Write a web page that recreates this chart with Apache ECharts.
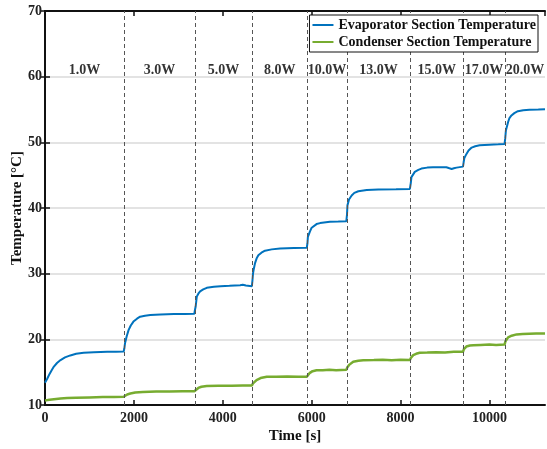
<!DOCTYPE html>
<html lang="en">
<head>
    <meta charset="UTF-8">
    <title>Section Temperature</title>
    <script src="https://cdn.jsdelivr.net/npm/echarts@6/dist/echarts.min.js"></script>
</head>

<style>
    html, body {
        margin: 0;
        padding: 0;
        background: #fff;
    }
    .chart {
        width: 547px;
        height: 449px;
    }
</style>

<body>
<div id="chart" class="chart"></div>

<script>
    // heater power steps, switch times [s]
    const powers = ['1.0W', '3.0W', '5.0W', '8.0W', '10.0W', '13.0W', '15.0W', '17.0W', '20.0W']
    const switchTimes = [1780, 3370, 4665, 5900, 6790, 8220, 9410, 10345]
    const endTime = 11250

    // [time s, temperature C]
    const evaporator = [
        [0, 13.4], [50, 14.0], [100, 14.7], [150, 15.3], [200, 15.85], [270, 16.4], [350, 16.85], [450, 17.25],
        [570, 17.55], [700, 17.8], [870, 17.95], [1100, 18.05], [1400, 18.1], [1600, 18.1], [1770, 18.15],
        [1785, 18.6], [1800, 19.4], [1840, 20.5], [1880, 21.4], [1930, 22.1], [1990, 22.7], [2070, 23.15],
        [2140, 23.45], [2250, 23.6], [2370, 23.7], [2600, 23.8], [2900, 23.85], [3150, 23.85], [3360, 23.9],
        [3375, 24.5], [3390, 25.0], [3415, 26.5], [3450, 26.95], [3490, 27.3], [3560, 27.6], [3640, 27.85],
        [3800, 28.0], [3950, 28.1], [4150, 28.15], [4390, 28.25], [4450, 28.3], [4520, 28.2], [4655, 28.1],
        [4668, 29.0], [4680, 30.0], [4700, 30.8], [4726, 31.6], [4760, 32.3], [4800, 32.8], [4870, 33.2],
        [4950, 33.5], [5100, 33.7], [5290, 33.85], [5600, 33.9], [5890, 33.95],
        [5905, 34.6], [5915, 35.6], [5960, 36.4], [6000, 37.0], [6040, 37.3], [6110, 37.55], [6190, 37.7],
        [6410, 37.9], [6600, 37.95], [6780, 38.0],
        [6795, 39.0], [6805, 40.4], [6840, 41.3], [6900, 41.9], [6960, 42.3], [7050, 42.55], [7240, 42.75],
        [7500, 42.8], [7900, 42.85], [8210, 42.9],
        [8230, 43.8], [8245, 44.7], [8320, 45.5], [8400, 45.8], [8470, 46.0], [8600, 46.15], [8730, 46.2],
        [9030, 46.2], [9100, 46.05], [9150, 45.95], [9200, 46.05], [9260, 46.15], [9405, 46.3],
        [9420, 47.0], [9435, 47.6], [9480, 48.2], [9530, 48.75], [9600, 49.2], [9680, 49.4], [9780, 49.55],
        [10000, 49.65], [10200, 49.7], [10340, 49.75],
        [10355, 50.6], [10370, 51.8], [10420, 53.1], [10450, 53.7], [10495, 54.1], [10560, 54.45], [10640, 54.75],
        [10760, 54.9], [10900, 54.95], [11100, 55.0], [11250, 55.05]
    ]

    const condenser = [
        [0, 10.7], [60, 10.75], [150, 10.85], [250, 10.93], [350, 11.0], [500, 11.05], [700, 11.1], [1000, 11.15],
        [1300, 11.2], [1550, 11.22], [1770, 11.25],
        [1800, 11.35], [1850, 11.6], [1920, 11.75], [2030, 11.9], [2200, 11.98], [2500, 12.05], [2800, 12.07],
        [3100, 12.1], [3360, 12.1],
        [3390, 12.3], [3450, 12.6], [3520, 12.78], [3640, 12.9], [3900, 12.93], [4200, 12.95], [4450, 12.97], [4655, 12.97],
        [4680, 13.3], [4760, 13.8], [4850, 14.1], [4990, 14.3], [5200, 14.32], [5450, 14.35], [5700, 14.3], [5890, 14.3],
        [5920, 14.55], [5960, 14.9], [6020, 15.15], [6110, 15.3], [6250, 15.28], [6400, 15.35], [6550, 15.3], [6780, 15.35],
        [6800, 15.7], [6850, 16.15], [6935, 16.6], [7050, 16.75], [7160, 16.8], [7400, 16.85], [7600, 16.9],
        [7800, 16.82], [8000, 16.88], [8210, 16.85],
        [8235, 17.2], [8285, 17.6], [8350, 17.8], [8430, 17.95], [8600, 17.98], [8800, 18.05], [9000, 18.0],
        [9200, 18.1], [9405, 18.1],
        [9425, 18.5], [9480, 18.9], [9560, 19.05], [9640, 19.1], [9800, 19.15], [10000, 19.2], [10150, 19.15], [10340, 19.2],
        [10360, 19.7], [10420, 20.3], [10500, 20.55], [10610, 20.75], [10750, 20.8], [10900, 20.85], [11050, 20.9], [11250, 20.9]
    ]

    const font = "'Liberation Serif', 'Times New Roman', serif"
    const labelY = 61

    // power label sits in the middle of its step
    let bounds = [0].concat(switchTimes, [endTime])
    let powerLabels = powers.map(function (p, i) {
        return {value: [(bounds[i] + bounds[i + 1]) / 2, labelY], name: p}
    })

    let tickStyle = {show: true, inside: true, length: 5, lineStyle: {color: '#111', width: 1.5}}
    let lineAxis = {show: true, lineStyle: {color: '#111', width: 2}}

    let option = {
        animation: false,
        backgroundColor: '#fff',
        textStyle: {fontFamily: font},
        grid: {left: 45, right: 2, top: 11, bottom: 44, containLabel: false, outerBoundsMode: 'none'},
        legend: {
            right: 9,
            top: 15,
            orient: 'vertical',
            z: 20,
            itemGap: 3,
            itemWidth: 21,
            itemHeight: 2,
            icon: 'rect',
            padding: [3, 2, 3, 3],
            backgroundColor: '#fff',
            borderColor: '#111',
            borderWidth: 1,
            textStyle: {fontFamily: font, fontSize: 14, fontWeight: 'bold', color: '#111'},
            data: ['Evaporator Section Temperature', 'Condenser Section Temperature']
        },
        xAxis: [{
            type: 'value',
            min: 0,
            max: endTime,
            interval: 2000,
            name: 'Time [s]',
            nameLocation: 'middle',
            nameGap: 24,
            nameMoveOverlap: false,
            nameTextStyle: {fontFamily: font, fontSize: 15, fontWeight: 'bold', color: '#111'},
            axisLine: lineAxis,
            axisTick: tickStyle,
            axisLabel: {
                margin: 6, fontFamily: font, fontSize: 14, fontWeight: 'bold', color: '#222',
                showMaxLabel: false,
                formatter: function (v) { return String(v) }
            },
            splitLine: {show: false}
        }, {
            type: 'value',
            position: 'top',
            min: 0,
            max: endTime,
            interval: 2000,
            axisLine: lineAxis,
            axisTick: tickStyle,
            axisLabel: {show: false},
            splitLine: {show: false}
        }],
        yAxis: [{
            type: 'value',
            min: 10,
            max: 70,
            interval: 10,
            name: 'Temperature [°C]',
            nameLocation: 'middle',
            nameGap: 20,
            nameMoveOverlap: false,
            nameTextStyle: {fontFamily: font, fontSize: 15, fontWeight: 'bold', color: '#111'},
            axisLine: lineAxis,
            axisTick: tickStyle,
            axisLabel: {margin: 3, fontFamily: font, fontSize: 14, fontWeight: 'bold', color: '#222'},
            splitLine: {show: true, lineStyle: {color: '#dadada', width: 1.5}}
        }, {
            type: 'value',
            position: 'right',
            min: 10,
            max: 70,
            interval: 10,
            axisLine: lineAxis,
            axisTick: tickStyle,
            axisLabel: {show: false},
            splitLine: {show: false}
        }],
        series: [{
            name: 'Evaporator Section Temperature',
            type: 'line',
            data: evaporator,
            showSymbol: false,
            symbol: 'none',
            color: '#0072BD',
            lineStyle: {color: '#0072BD', width: 2},
            z: 3,
            markLine: {
                silent: true,
                symbol: 'none',
                label: {show: false},
                lineStyle: {color: '#555', width: 1, type: [4, 3]},
                data: switchTimes.map(function (t) { return {xAxis: t} })
            }
        }, {
            name: 'Condenser Section Temperature',
            type: 'line',
            data: condenser,
            showSymbol: false,
            symbol: 'none',
            color: '#77AC30',
            lineStyle: {color: '#77AC30', width: 2.5},
            z: 3
        }, {
            name: 'power',
            type: 'scatter',
            data: powerLabels,
            symbolSize: 0,
            silent: true,
            label: {
                show: true,
                position: 'inside',
                formatter: function (p) { return p.name },
                fontFamily: font,
                fontSize: 14,
                fontWeight: 'bold',
                color: '#000',
                textBorderWidth: 0,
                textBorderColor: 'transparent'
            }
        }]
    }

    let chart = echarts.init(document.getElementById('chart'))
    chart.setOption(option)
</script>
</body>
</html>
